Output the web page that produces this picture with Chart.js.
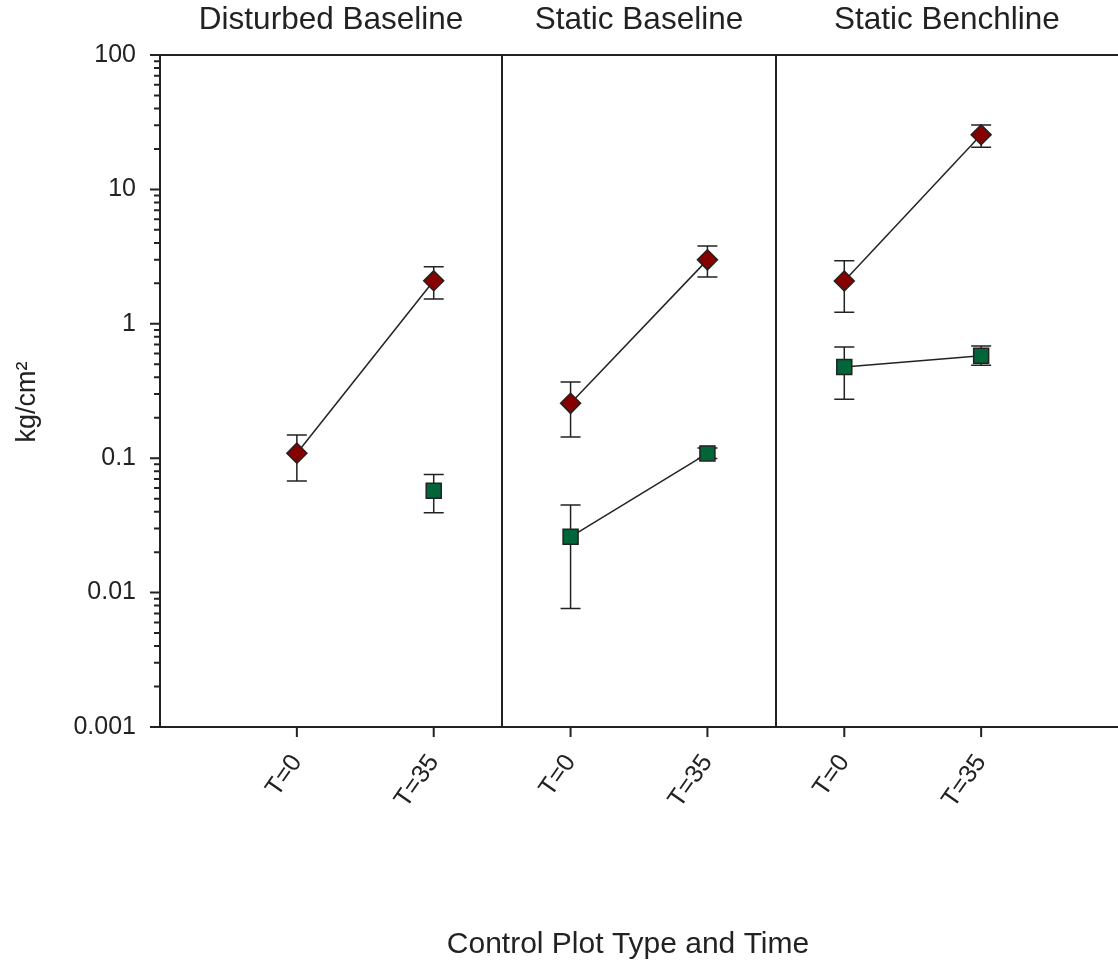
<!DOCTYPE html>
<html><head><meta charset="utf-8">
<script src="https://cdn.jsdelivr.net/npm/chart.js@4.4.1/dist/chart.umd.min.js"></script>
<style>html,body{margin:0;padding:0;background:#fff}#wrap{width:1118px;height:964px;position:relative}</style>
</head><body><div id="wrap"><canvas id="c"></canvas></div>
<script>
const categories = ['T=0', 'T=35', 'T=0', 'T=35', 'T=0', 'T=35'];
const panels = ['Disturbed Baseline', 'Static Baseline', 'Static Benchline'];
const redMean  = [0.109, 2.09, 0.256, 2.99, 2.08, 25.5];
const redLow   = [0.0676, 1.53, 0.144, 2.23, 1.22, 20.6];
const redHigh  = [0.149, 2.66, 0.369, 3.80, 2.95, 30.2];
const greenMean = [null, 0.0572, 0.026, 0.1086, 0.477, 0.579];
const greenLow  = [null, 0.0392, 0.00762, 0.0997, 0.274, 0.491];
const greenHigh = [null, 0.0757, 0.0448, 0.119, 0.672, 0.683];
const yTickLabels = ['0.001', '0.01', '0.1', '1', '10', '100'];
const yTitle = 'kg/cm²';
const xTitle = 'Control Plot Type and Time';

const FONT = "'Liberation Sans', Arial, sans-serif";
const INK = '#222222';
const panelBounds = [0, 2.5, 4.5, 7];

function buildSeries(mean, low, high, label, style) {
  const sets = [];
  for (let p = 0; p < panels.length; p++) {
    const pts = [], lo = [], hi = [];
    for (let k = 0; k < 2; k++) {
      const i = 2 * p + k;
      if (mean[i] == null) continue;
      pts.push({x: i + 1, y: mean[i]});
      lo.push(low[i]); hi.push(high[i]);
    }
    sets.push(Object.assign({label: label, data: pts, errLow: lo, errHigh: hi}, style));
  }
  return sets;
}
const lineStyle = {borderColor: INK, borderWidth: 1.5, pointBorderColor: INK, pointBorderWidth: 1.5, showLine: true, fill: false, tension: 0};
const redSets = buildSeries(redMean, redLow, redHigh, 'red', Object.assign({}, lineStyle, {pointStyle: 'rectRot', pointRadius: 10, pointBackgroundColor: '#870000'}));
const greenSets = buildSeries(greenMean, greenLow, greenHigh, 'green', Object.assign({}, lineStyle, {pointStyle: 'rect', pointRadius: 10.6, pointBackgroundColor: '#00663a'}));

function seg(ctx, x1, y1, x2, y2) { ctx.moveTo(x1, y1); ctx.lineTo(x2, y2); }

const decor = {
  id: 'decor',
  beforeDatasetsDraw(chart) {
    const {ctx, scales: {y}} = chart;
    ctx.save();
    ctx.strokeStyle = INK; ctx.lineWidth = 1.5;
    chart.data.datasets.forEach((ds, di) => {
      const meta = chart.getDatasetMeta(di);
      meta.data.forEach((el, j) => {
        const px = el.x;
        const yl = y.getPixelForValue(ds.errLow[j]);
        const yh = y.getPixelForValue(ds.errHigh[j]);
        ctx.beginPath();
        seg(ctx, px, yl, px, yh);
        seg(ctx, px - 10, yl, px + 10, yl);
        seg(ctx, px - 10, yh, px + 10, yh);
        ctx.stroke();
      });
    });
    ctx.restore();
  },
  afterDraw(chart) {
    const {ctx, chartArea: a, scales: {x, y}} = chart;
    ctx.save();
    ctx.strokeStyle = INK; ctx.lineWidth = 2;
    ctx.beginPath();
    seg(ctx, a.left - 10, a.top, a.right, a.top);
    panelBounds.slice(1, -1).forEach(v => {
      const px = Math.round(x.getPixelForValue(v));
      seg(ctx, px, a.top, px, a.bottom);
    });
    ctx.stroke();
    // y ticks
    ctx.beginPath();
    const e0 = Math.round(Math.log10(y.min)), e1 = Math.round(Math.log10(y.max));
    for (let e = e0; e <= e1; e++) {
      const base = Math.pow(10, e);
      const py = y.getPixelForValue(base);
      seg(ctx, a.left - 10, py, a.left, py);
      if (e < e1) {
        for (let k = 2; k <= 9; k++) {
          const pm = y.getPixelForValue(k * base);
          seg(ctx, a.left - 6, pm, a.left, pm);
        }
      }
    }
    // x ticks
    categories.forEach((c, i) => {
      const px = x.getPixelForValue(i + 1);
      seg(ctx, px, a.bottom, px, a.bottom + 10);
    });
    ctx.stroke();
    // panel titles
    ctx.fillStyle = INK;
    ctx.font = '31.5px ' + FONT;
    ctx.textAlign = 'center';
    ctx.textBaseline = 'alphabetic';
    panels.forEach((t, p) => {
      const cx = (x.getPixelForValue(panelBounds[p]) + x.getPixelForValue(panelBounds[p + 1])) / 2;
      ctx.fillText(t, cx, 29);
    });
    // x axis title
    ctx.font = '30px ' + FONT;
    ctx.fillText(xTitle, (a.left + a.right) / 2 - 11, 953);
    // y axis title
    ctx.save();
    ctx.translate(35, (a.top + a.bottom) / 2 + 11);
    ctx.rotate(-Math.PI / 2);
    ctx.font = '27px ' + FONT;
    ctx.textAlign = 'center';
    ctx.textBaseline = 'alphabetic';
    ctx.fillText(yTitle, 0, 0);
    ctx.restore();
    ctx.restore();
  }
};

new Chart(document.getElementById('c'), {
  type: 'line',
  data: {datasets: redSets.concat(greenSets)},
  options: {
    responsive: true, maintainAspectRatio: false, animation: false,
    layout: {autoPadding: false, padding: {top: 55, right: 0, bottom: 0, left: 0}},
    plugins: {legend: {display: false}, tooltip: {enabled: false}},
    scales: {
      x: {
        type: 'linear', min: 0, max: 7,
        afterBuildTicks: s => { s.ticks = categories.map((c, i) => ({value: i + 1})); },
        afterFit: s => { s.height = 237; s.paddingRight = 0; s.paddingLeft = 0; },
        grid: {display: false, drawTicks: true, tickLength: 10},
        border: {display: true, color: INK, width: 2},
        ticks: {autoSkip: false, minRotation: 55, maxRotation: 55, padding: 12, color: INK,
          font: {family: FONT, size: 25},
          callback: (v, i) => categories[i]},
        title: {display: false}
      },
      y: {
        type: 'logarithmic', min: 0.001, max: 100,
        afterBuildTicks: s => { s.ticks = yTickLabels.map(t => ({value: parseFloat(t), major: true})); },
        afterFit: s => { s.width = 160; },
        grid: {display: false, drawTicks: true, tickLength: 10},
        border: {display: true, color: INK, width: 2},
        ticks: {autoSkip: false, padding: 14, color: INK, font: {family: FONT, size: 25},
          callback: (v, i) => yTickLabels[i]},
        title: {display: false}
      }
    }
  },
  plugins: [decor]
});
</script>
</body></html>
